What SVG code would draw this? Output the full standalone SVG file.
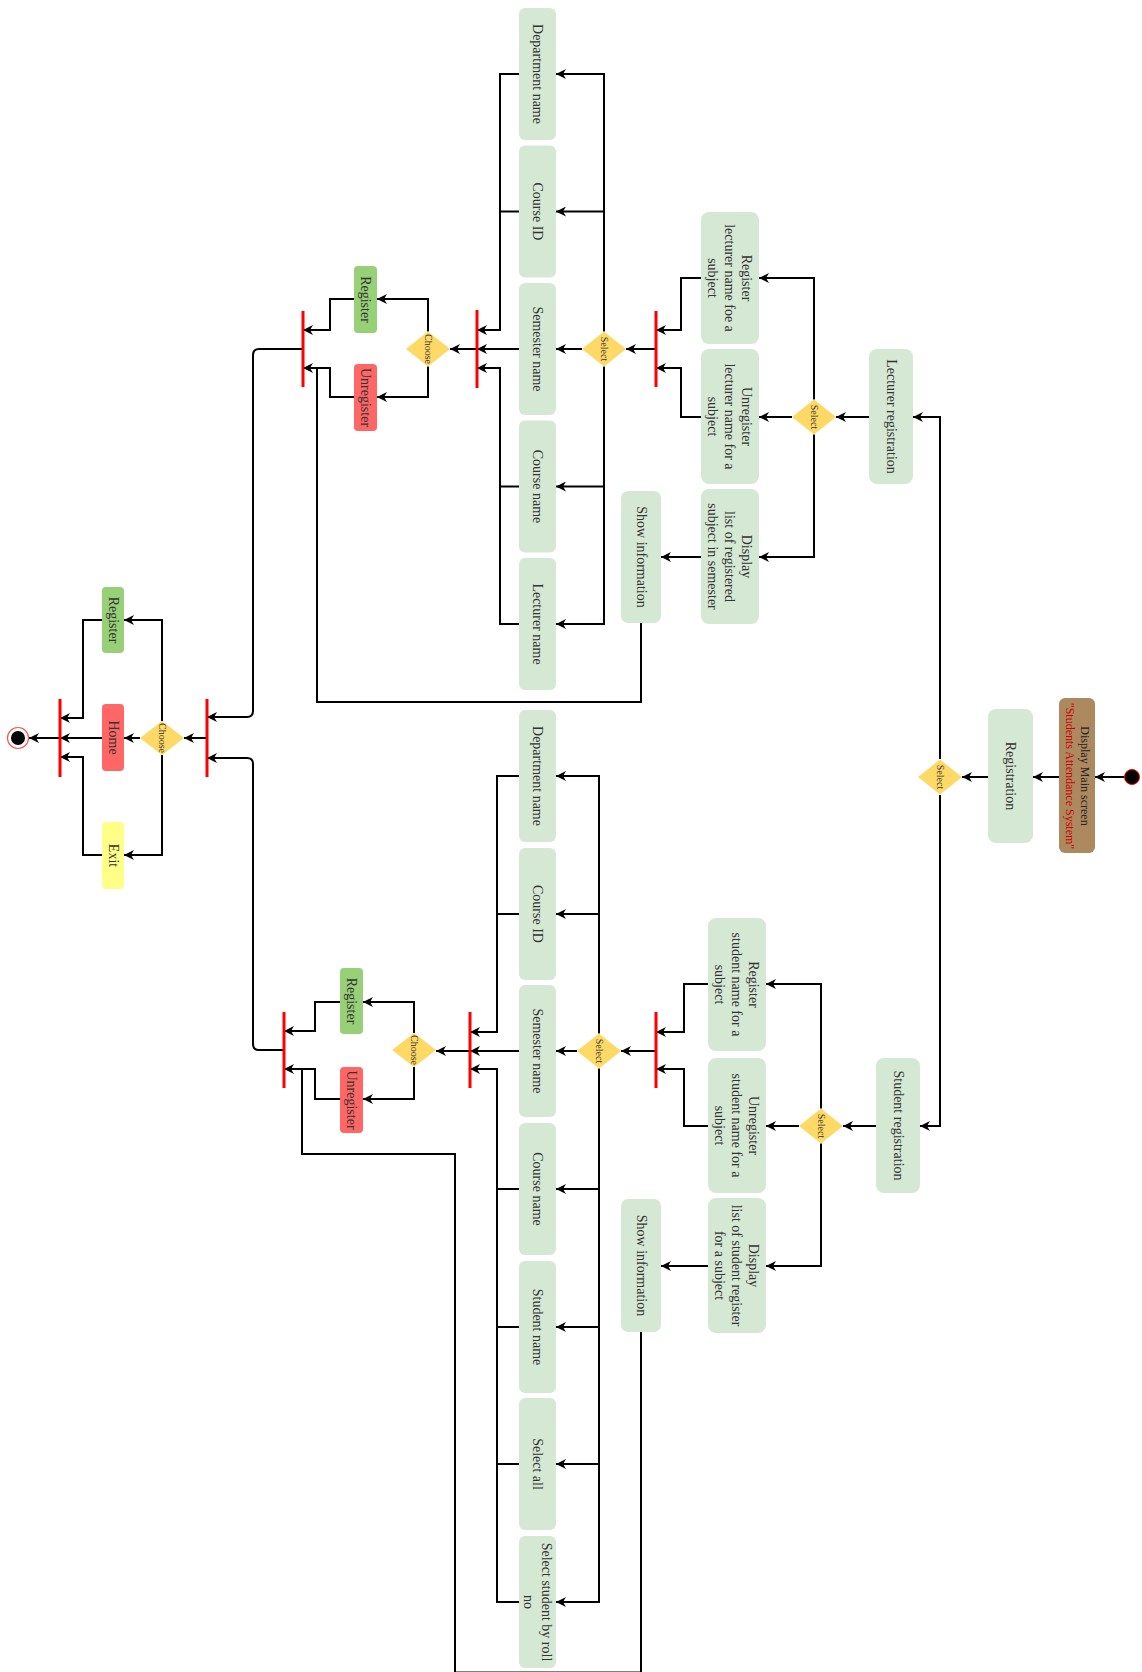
<svg xmlns="http://www.w3.org/2000/svg" width="1142" height="1672" viewBox="0 0 1142 1672">
<style>
.box{fill:#d5e8d4;}
.grn{fill:#97d077;}
.red{fill:#ff6666;}
.yel{fill:#ffff88;}
.dia{fill:#ffd966;}
.bar{stroke:#ff0000;stroke-width:3;fill:none;}
.t{font-family:"Liberation Serif",serif;font-size:14px;fill:#333;text-anchor:middle;dominant-baseline:central;}
.ts{font-family:"Liberation Serif",serif;font-size:10px;fill:#333;text-anchor:middle;dominant-baseline:central;}
.tm{font-family:"Liberation Serif",serif;font-size:12px;text-anchor:middle;dominant-baseline:central;}
.e{fill:none;stroke:#000;stroke-width:2;}
.a{marker-end:url(#arr);}
</style>
<defs>
<marker id="arr" viewBox="0 0 10 10" refX="10" refY="5" markerWidth="11" markerHeight="10" markerUnits="userSpaceOnUse" orient="auto">
<path d="M0,0 L10,5 L0,10 L3,5 z" fill="#000"/>
</marker>
</defs>

<g id="connectors">
<path class="e a" d="M1125,777 H1095"/>
<path class="e a" d="M1059,777 H1033"/>
<path class="e a" d="M988,777 H962"/>
<path class="e a" d="M940,759 V417 H913"/>
<path class="e a" d="M940,795 V1126 H920"/>
<path class="e a" d="M869,417 H836"/>
<path class="e a" d="M814,399.5 V278 H759"/>
<path class="e a" d="M792,417 H759"/>
<path class="e a" d="M814,434.5 V557 H759"/>
<path class="e a" d="M701,557 H661"/>
<path class="e a" d="M701,278 H681 V330 H656"/>
<path class="e a" d="M701,417 H681 V368 H656"/>
<path class="e a" d="M656,349 H626"/>
<path class="e a" d="M604,331.5 V74 H556"/>
<path class="e a" d="M604,211.5 H556"/>
<path class="e a" d="M582,349 H556"/>
<path class="e a" d="M604,366.5 V624 H556"/>
<path class="e a" d="M604,486.5 H556"/>
<path class="e a" d="M519,74 H500 V330 H477"/>
<path class="e" d="M519,211.5 H500"/>
<path class="e a" d="M519,349 H477"/>
<path class="e a" d="M519,624 H500 V368 H477"/>
<path class="e" d="M519,486.5 H500"/>
<path class="e a" d="M477,349 H450"/>
<path class="e a" d="M428,331.5 V299 H377"/>
<path class="e a" d="M428,366.5 V397 H377"/>
<path class="e a" d="M354,299 H330 V330 H303"/>
<path class="e a" d="M354,397 H330 V368 H303"/>
<path class="e" d="M641,623 V702 H317 V368"/>
<path class="e a" d="M303,349 H259 Q253,349 253,355 V711 Q253,717 247,717 H207"/>
<path class="e a" d="M207,738 H184"/>
<path class="e a" d="M162,721 V620 H124"/>
<path class="e a" d="M140,738 H124"/>
<path class="e a" d="M162,755 V855 H124"/>
<path class="e a" d="M102,620 H83 V718 H60"/>
<path class="e a" d="M102,738 H60"/>
<path class="e a" d="M102,855 H83 V757 H60"/>
<path class="e a" d="M60,738 H29"/>
<path class="e a" d="M876,1126 H843"/>
<path class="e a" d="M821,1108.5 V984 H766"/>
<path class="e a" d="M799,1126 H766"/>
<path class="e a" d="M821,1143.5 V1266 H766"/>
<path class="e a" d="M708,1266 H661"/>
<path class="e a" d="M708,984 H684 V1032 H656"/>
<path class="e a" d="M708,1126 H684 V1069 H656"/>
<path class="e a" d="M656,1051 H621"/>
<path class="e a" d="M599,1033.5 V776 H556"/>
<path class="e a" d="M599,914 H556"/>
<path class="e a" d="M577,1051 H556"/>
<path class="e a" d="M599,1068.5 V1602 H556"/>
<path class="e a" d="M599,1189 H556"/>
<path class="e a" d="M599,1327 H556"/>
<path class="e a" d="M599,1464 H556"/>
<path class="e a" d="M519,776 H497 V1032 H470"/>
<path class="e" d="M519,914 H497"/>
<path class="e a" d="M519,1051 H470"/>
<path class="e a" d="M519,1602 H497 V1069 H470"/>
<path class="e" d="M519,1189 H497"/>
<path class="e" d="M519,1327 H497"/>
<path class="e" d="M519,1464 H497"/>
<path class="e a" d="M470,1051 H436"/>
<path class="e a" d="M414,1033 V1002 H363"/>
<path class="e a" d="M414,1067 V1099 H363"/>
<path class="e a" d="M340,1002 H315 V1031 H284"/>
<path class="e a" d="M340,1099 H315 V1069 H284"/>
<path class="e" d="M641,1332 V1672.5 H455 V1154 H302 V1069"/>
<path class="e a" d="M284,1050 H259 Q253,1050 253,1044 V764 Q253,758 247,758 H207"/>
</g>

<g id="start"><circle cx="1132" cy="777" r="7.5" fill="#000" stroke="#ff0000" stroke-width="1"/></g>
<g id="display_main">
<rect x="1059" y="698" width="36" height="155" rx="6" fill="#ad8960"/>
<text class="tm" transform="translate(1077,776) rotate(90)"><tspan x="0" y="-7.5" fill="#222">Display Main screen</tspan><tspan x="0" y="7.5" fill="#cc0000">"Students Attendance System"</tspan></text>
</g>
<g id="registration">
<rect class="box" x="988" y="709" width="45" height="134" rx="8"/>
<text class="t" transform="translate(1010.5,776) rotate(90)">Registration</text>
</g>
<g id="select_main">
<polygon class="dia" points="918,777 940,759.5 962,777 940,794.5"/>
<text class="ts" transform="translate(940,777) rotate(90)">Select</text>
</g>

<g id="lecturer_registration">
<rect class="box" x="869" y="349" width="44" height="135" rx="8"/>
<text class="t" transform="translate(891,416.5) rotate(90)">Lecturer registration</text>
</g>
<g id="select_lecturer">
<polygon class="dia" points="792,417 814,399.5 836,417 814,434.5"/>
<text class="ts" transform="translate(814,417) rotate(90)">Select</text>
</g>
<g id="register_lecturer">
<rect class="box" x="701" y="212" width="58" height="132" rx="8"/>
<text class="t" transform="translate(730,278) rotate(90)"><tspan x="0" y="-17">Register</tspan><tspan x="0" y="0">lecturer name foe a</tspan><tspan x="0" y="17">subject</tspan></text>
</g>
<g id="unregister_lecturer">
<rect class="box" x="701" y="349" width="58" height="135" rx="8"/>
<text class="t" transform="translate(730,416.5) rotate(90)"><tspan x="0" y="-17">Unregister</tspan><tspan x="0" y="0">lecturer name for a</tspan><tspan x="0" y="17">subject</tspan></text>
</g>
<g id="display_lecturer">
<rect class="box" x="701" y="489" width="58" height="135" rx="8"/>
<text class="t" transform="translate(730,556.5) rotate(90)"><tspan x="0" y="-17">Display</tspan><tspan x="0" y="0">list of registered</tspan><tspan x="0" y="17">subject in semester</tspan></text>
</g>
<g id="show_lecturer">
<rect class="box" x="621" y="491" width="40" height="132" rx="7"/>
<text class="t" transform="translate(641,557) rotate(90)">Show information</text>
</g>
<g id="fork_l1"><line class="bar" x1="656" y1="311" x2="656" y2="387"/></g>
<g id="select_lecturer2">
<polygon class="dia" points="582,349 604,331.5 626,349 604,366.5"/>
<text class="ts" transform="translate(604,349) rotate(90)">Select</text>
</g>
<g id="l_department"><rect class="box" x="519" y="8" width="37" height="132" rx="6"/><text class="t" transform="translate(537.5,74) rotate(90)">Department name</text></g>
<g id="l_courseid"><rect class="box" x="519" y="145.5" width="37" height="132" rx="6"/><text class="t" transform="translate(537.5,211.5) rotate(90)">Course ID</text></g>
<g id="l_semester"><rect class="box" x="519" y="283" width="37" height="132" rx="6"/><text class="t" transform="translate(537.5,349) rotate(90)">Semester name</text></g>
<g id="l_coursename"><rect class="box" x="519" y="420.5" width="37" height="132" rx="6"/><text class="t" transform="translate(537.5,486.5) rotate(90)">Course name</text></g>
<g id="l_lecturername"><rect class="box" x="519" y="558" width="37" height="132" rx="6"/><text class="t" transform="translate(537.5,624) rotate(90)">Lecturer name</text></g>
<g id="fork_l2"><line class="bar" x1="477" y1="310" x2="477" y2="388"/></g>
<g id="choose_lecturer">
<polygon class="dia" points="406,349 428,331.5 450,349 428,366.5"/>
<text class="ts" transform="translate(428,349) rotate(90)">Choose</text>
</g>
<g id="register_l2"><rect class="grn" x="354" y="266" width="23" height="67" rx="4"/><text class="t" transform="translate(365.5,299.5) rotate(90)">Register</text></g>
<g id="unregister_l2"><rect class="red" x="354" y="364" width="23" height="67" rx="4"/><text class="t" transform="translate(365.5,397.5) rotate(90)">Unregister</text></g>
<g id="fork_l3"><line class="bar" x1="303" y1="311" x2="303" y2="387"/></g>

<g id="fork_main"><line class="bar" x1="207" y1="699" x2="207" y2="777"/></g>
<g id="choose_main">
<polygon class="dia" points="140,738 162,721 184,738 162,755"/>
<text class="ts" transform="translate(162,738) rotate(90)">Choose</text>
</g>
<g id="register_main"><rect class="grn" x="102" y="587" width="22" height="66" rx="4"/><text class="t" transform="translate(113,620) rotate(90)">Register</text></g>
<g id="home"><rect class="red" x="102" y="704" width="22" height="67" rx="4"/><text class="t" transform="translate(113,737.5) rotate(90)">Home</text></g>
<g id="exit"><rect class="yel" x="102" y="822" width="22" height="67" rx="4"/><text class="t" transform="translate(113,855.5) rotate(90)">Exit</text></g>
<g id="fork_end"><line class="bar" x1="60" y1="699" x2="60" y2="777"/></g>
<g id="end"><circle cx="18" cy="738" r="10.5" fill="#fff" stroke="#ff4d4d" stroke-width="1.2"/><circle cx="18" cy="738" r="7" fill="#000"/></g>

<g id="student_registration">
<rect class="box" x="876" y="1058" width="44" height="135" rx="8"/>
<text class="t" transform="translate(898,1125.5) rotate(90)">Student registration</text>
</g>
<g id="select_student">
<polygon class="dia" points="799,1126 821,1108.5 843,1126 821,1143.5"/>
<text class="ts" transform="translate(821,1126) rotate(90)">Select</text>
</g>
<g id="register_student">
<rect class="box" x="708" y="918" width="58" height="133" rx="8"/>
<text class="t" transform="translate(737,984.5) rotate(90)"><tspan x="0" y="-17">Register</tspan><tspan x="0" y="0">student name for a</tspan><tspan x="0" y="17">subject</tspan></text>
</g>
<g id="unregister_student">
<rect class="box" x="708" y="1058" width="58" height="135" rx="8"/>
<text class="t" transform="translate(737,1125.5) rotate(90)"><tspan x="0" y="-17">Unregister</tspan><tspan x="0" y="0">student name for a</tspan><tspan x="0" y="17">subject</tspan></text>
</g>
<g id="display_student">
<rect class="box" x="708" y="1198" width="58" height="135" rx="8"/>
<text class="t" transform="translate(737,1265.5) rotate(90)"><tspan x="0" y="-17">Display</tspan><tspan x="0" y="0">list of student register</tspan><tspan x="0" y="17">for a subject</tspan></text>
</g>
<g id="show_student">
<rect class="box" x="621" y="1199" width="40" height="133" rx="7"/>
<text class="t" transform="translate(641,1265.5) rotate(90)">Show information</text>
</g>
<g id="fork_s1"><line class="bar" x1="656" y1="1012" x2="656" y2="1088"/></g>
<g id="select_student2">
<polygon class="dia" points="577,1051 599,1033.5 621,1051 599,1068.5"/>
<text class="ts" transform="translate(599,1051) rotate(90)">Select</text>
</g>
<g id="s_department"><rect class="box" x="519" y="710" width="37" height="132" rx="6"/><text class="t" transform="translate(537.5,776) rotate(90)">Department name</text></g>
<g id="s_courseid"><rect class="box" x="519" y="848" width="37" height="132" rx="6"/><text class="t" transform="translate(537.5,914) rotate(90)">Course ID</text></g>
<g id="s_semester"><rect class="box" x="519" y="985" width="37" height="132" rx="6"/><text class="t" transform="translate(537.5,1051) rotate(90)">Semester name</text></g>
<g id="s_coursename"><rect class="box" x="519" y="1123" width="37" height="132" rx="6"/><text class="t" transform="translate(537.5,1189) rotate(90)">Course name</text></g>
<g id="s_studentname"><rect class="box" x="519" y="1261" width="37" height="132" rx="6"/><text class="t" transform="translate(537.5,1327) rotate(90)">Student name</text></g>
<g id="s_selectall"><rect class="box" x="519" y="1398" width="37" height="132" rx="6"/><text class="t" transform="translate(537.5,1464) rotate(90)">Select all</text></g>
<g id="s_selectroll"><rect class="box" x="519" y="1536" width="37" height="132" rx="6"/><text class="t" transform="translate(537.5,1602) rotate(90)"><tspan x="0" y="-9">Select student by roll</tspan><tspan x="0" y="9">no</tspan></text></g>
<g id="fork_s2"><line class="bar" x1="470" y1="1012" x2="470" y2="1088"/></g>
<g id="choose_student">
<polygon class="dia" points="392,1050 414,1033 436,1050 414,1067"/>
<text class="ts" transform="translate(414,1050) rotate(90)">Choose</text>
</g>
<g id="register_s2"><rect class="grn" x="340" y="968" width="23" height="66" rx="4"/><text class="t" transform="translate(351.5,1001) rotate(90)">Register</text></g>
<g id="unregister_s2"><rect class="red" x="340" y="1067" width="23" height="66" rx="4"/><text class="t" transform="translate(351.5,1100) rotate(90)">Unregister</text></g>
<g id="fork_s3"><line class="bar" x1="284" y1="1012" x2="284" y2="1088"/></g>
</svg>
